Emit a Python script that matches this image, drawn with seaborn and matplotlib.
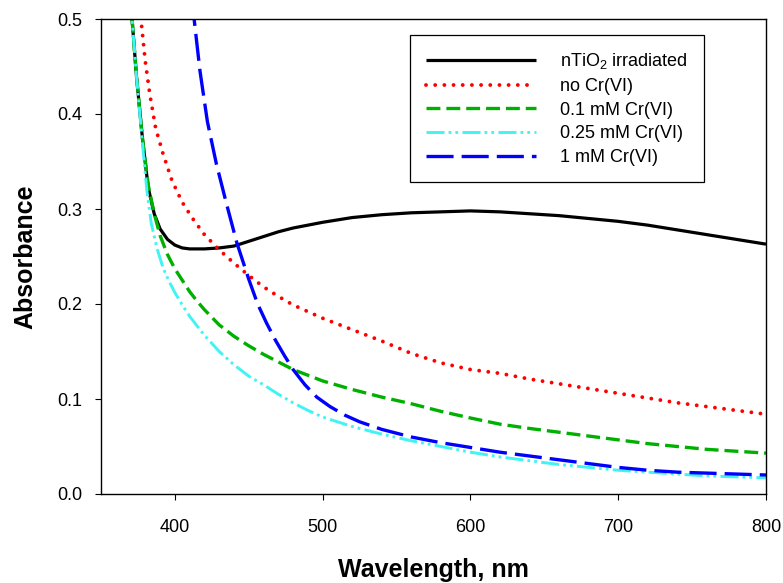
import matplotlib
matplotlib.use("Agg")
import matplotlib.pyplot as plt
import pandas as pd
import seaborn as sns

# UV-Vis absorbance spectra (wavelength in nm)
wl_tio2 = [366, 370, 374, 378, 382, 386, 390, 395, 400, 405, 410, 415, 420, 430,
           440, 450, 460, 470, 480, 490, 500, 520, 540, 560, 580, 600, 620, 640,
           660, 680, 700, 720, 740, 760, 780, 800]
abs_tio2 = [0.58, 0.52, 0.44, 0.375, 0.322, 0.295, 0.279, 0.268, 0.262, 0.259,
            0.258, 0.258, 0.258, 0.259, 0.261, 0.266, 0.271, 0.276, 0.280, 0.283,
            0.286, 0.291, 0.294, 0.296, 0.297, 0.298, 0.297, 0.295, 0.293, 0.290,
            0.287, 0.283, 0.278, 0.273, 0.268, 0.263]

wl_none = [374, 377, 380, 383, 387, 392, 398, 405, 412, 420, 430, 440, 450, 460,
           470, 480, 490, 500, 520, 540, 560, 580, 600, 620, 640, 660, 680, 700,
           720, 740, 760, 780, 800]
abs_none = [0.56, 0.50, 0.455, 0.421, 0.385, 0.358, 0.330, 0.307, 0.290, 0.273,
            0.257, 0.243, 0.230, 0.218, 0.208, 0.199, 0.192, 0.185, 0.173, 0.161,
            0.148, 0.138, 0.131, 0.127, 0.121, 0.116, 0.111, 0.106, 0.101, 0.096,
            0.092, 0.088, 0.084]

wl_01 = [366, 370, 374, 378, 382, 386, 390, 395, 400, 405, 410, 415, 420, 430,
         440, 450, 460, 470, 480, 490, 500, 520, 540, 560, 580, 600, 620, 640,
         660, 680, 700, 720, 740, 760, 780, 800]
abs_01 = [0.58, 0.52, 0.44, 0.375, 0.325, 0.295, 0.272, 0.252, 0.237, 0.225,
          0.213, 0.203, 0.194, 0.178, 0.166, 0.156, 0.147, 0.139, 0.131, 0.125,
          0.119, 0.110, 0.102, 0.095, 0.087, 0.080, 0.0735, 0.069, 0.065, 0.061,
          0.057, 0.053, 0.050, 0.047, 0.045, 0.043]

wl_025 = [366, 370, 374, 378, 381, 384, 388, 392, 396, 400, 405, 410, 420, 430,
          440, 450, 460, 470, 480, 490, 500, 520, 540, 560, 580, 600, 620, 640,
          660, 680, 700, 720, 740, 760, 780, 800]
abs_025 = [0.58, 0.52, 0.44, 0.37, 0.32, 0.285, 0.258, 0.238, 0.224, 0.212,
           0.199, 0.187, 0.167, 0.150, 0.136, 0.124, 0.115, 0.105, 0.096, 0.088,
           0.081, 0.071, 0.063, 0.056, 0.050, 0.044, 0.039, 0.035, 0.031, 0.028,
           0.025, 0.023, 0.021, 0.019, 0.018, 0.017]

wl_1 = [410, 413, 417, 422, 428, 435, 442, 450, 456, 462, 468, 474, 480, 488,
        496, 505, 515, 525, 540, 560, 580, 600, 620, 640, 660, 680, 700, 720,
        740, 760, 780, 800]
abs_1 = [0.54, 0.50, 0.445, 0.392, 0.348, 0.305, 0.264, 0.226, 0.200, 0.180,
         0.162, 0.146, 0.131, 0.115, 0.102, 0.092, 0.083, 0.076, 0.068, 0.060,
         0.054, 0.049, 0.044, 0.040, 0.036, 0.032, 0.028, 0.025, 0.023, 0.022,
         0.021, 0.020]

labels = ["nTiO$\\mathregular{_2}$ irradiated", "no Cr(VI)", "0.1 mM Cr(VI)",
          "0.25 mM Cr(VI)", "1 mM Cr(VI)"]
x_ticks = [400, 500, 600, 700, 800]
y_ticks = [0.0, 0.1, 0.2, 0.3, 0.4, 0.5]

sns.set_style("ticks")
plt.rcParams["font.family"] = ["Liberation Sans", "DejaVu Sans"]
plt.rcParams["mathtext.fontset"] = "custom"
plt.rcParams["mathtext.rm"] = "Liberation Sans"
plt.rcParams["mathtext.it"] = "Liberation Sans:italic"
plt.rcParams["mathtext.bf"] = "Liberation Sans:bold"
plt.rcParams["lines.scale_dashes"] = False
for key in ("text.color", "axes.labelcolor", "xtick.color", "ytick.color",
            "axes.edgecolor"):
    plt.rcParams[key] = "black"

series = [
    (wl_tio2, abs_tio2, "#000000", 2.3, "-", "butt"),
    (wl_none, abs_none, "#FF0000", 2.8, (0, (0.01, 6.6)), "round"),
    (wl_01, abs_01, "#00B000", 2.4, (0, (10.0, 4.3)), "butt"),
    (wl_025, abs_025, "#40F4F4", 2.1, (0, (13.0, 2.9, 2.0, 2.9, 2.0, 3.1)), "butt"),
    (wl_1, abs_1, "#0000FF", 2.4, (0, (19.5, 5.8)), "butt"),
]

fig = plt.figure(figsize=(7.83, 5.83), dpi=100)
ax = fig.add_axes([101 / 783, 1 - 494 / 583, 665 / 783, 475 / 583])

for (xs, ys, color, lw, ls, cap), label in zip(series, labels):
    df = pd.DataFrame({"Wavelength": xs, "Absorbance": ys})
    sns.lineplot(data=df, x="Wavelength", y="Absorbance", ax=ax, color=color,
                 linewidth=lw, linestyle=ls, label=label, sort=True,
                 estimator=None)
    line = ax.get_lines()[-1]
    line.set_dash_capstyle(cap)
    line.set_solid_capstyle("butt")

ax.set_xlim(350, 800)
ax.set_ylim(0, 0.5)
ax.set_xticks(x_ticks)
ax.set_yticks(y_ticks)
ax.set_yticklabels([f"{v:.1f}" for v in y_ticks])
ax.tick_params(axis="both", direction="out", length=4.3, width=0.8,
               labelsize=13, colors="black", top=False, right=False)
ax.tick_params(axis="x", pad=13.5)
ax.tick_params(axis="y", pad=9.4)
for sp in ax.spines.values():
    sp.set_visible(True)
    sp.set_color("black")
    sp.set_linewidth(1.0)

ax.set_xlabel("Wavelength, nm", fontsize=18, fontweight="bold", color="black")
ax.set_ylabel("Absorbance", fontsize=18, fontweight="bold", color="black")
ax.xaxis.set_label_coords(0.5, -0.134)
ax.yaxis.set_label_coords(-0.095, 0.5)

leg = ax.legend(loc="upper left", bbox_to_anchor=(0.4647, 0.966),
                borderaxespad=0, fontsize=13, handlelength=6.1,
                handletextpad=1.3, labelspacing=0.37, borderpad=0.9,
                frameon=True, fancybox=False, shadow=False)
frame = leg.get_frame()
frame.set_edgecolor("black")
frame.set_linewidth(0.9)
frame.set_alpha(1.0)
for txt in leg.get_texts():
    txt.set_color("black")

fig.savefig("out.png", dpi=100)
